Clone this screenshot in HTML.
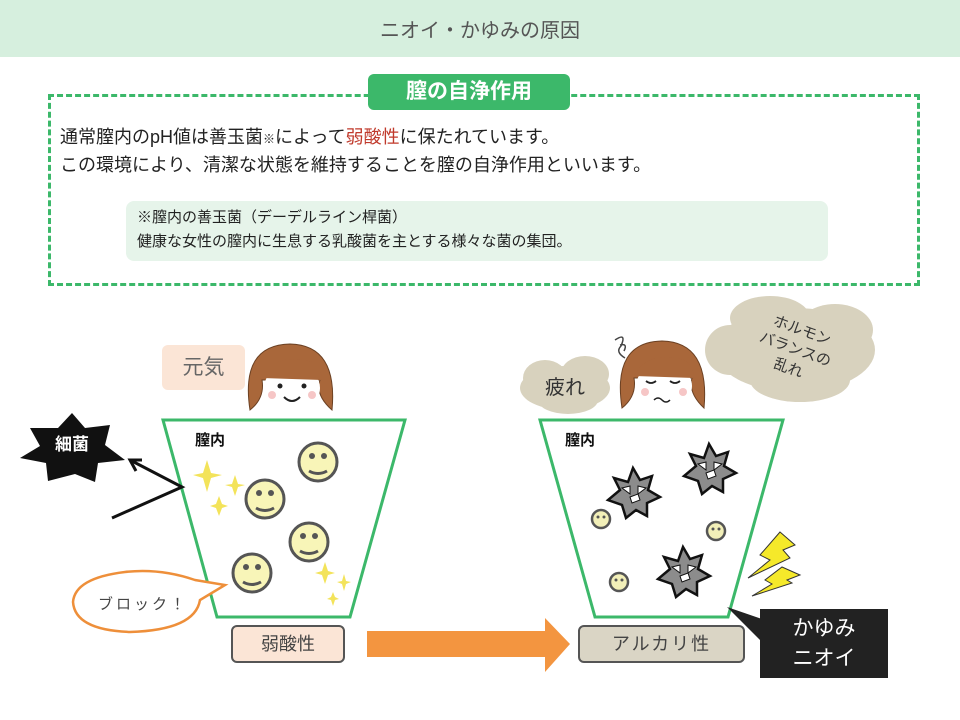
<!DOCTYPE html>
<html><head><meta charset="utf-8"><style>
body{margin:0;width:960px;height:720px;background:#fff;overflow:hidden;position:relative;font-family:"Liberation Sans","Noto Sans CJK JP",sans-serif;}
.a{position:absolute;}
</style></head><body>
<div class="a" style="left:0;top:0;width:960px;height:57px;background:#d6efde;"></div>
<div class="a" style="left:0;top:14px;width:960px;text-align:center;font-size:20px;color:#555;">ニオイ・かゆみの原因</div>
<div class="a" style="left:48px;top:94px;width:866px;height:186px;border:3px dashed #3cb86a;"></div>
<div class="a" style="left:368px;top:74px;width:202px;height:36px;background:#3cb86a;border-radius:6px;color:#fff;font-weight:bold;font-size:21px;text-align:center;line-height:36px;">膣の自浄作用</div>
<div class="a" style="left:60px;top:124px;font-size:18px;color:#222;line-height:26px;">通常膣内のpH値は善玉菌<span style="font-size:12px">※</span>によって<span style="color:#c0392b">弱酸性</span>に保たれています。<br>この環境により、清潔な状態を維持することを膣の自浄作用といいます。</div>
<div class="a" style="left:126px;top:201px;width:702px;height:60px;background:#e6f4ea;border-radius:8px;"></div>
<div class="a" style="left:137px;top:206px;font-size:15px;color:#222;line-height:24px;">※膣内の善玉菌（デーデルライン桿菌）<br>健康な女性の膣内に生息する乳酸菌を主とする様々な菌の集団。</div>

<svg class="a" style="left:0;top:0" width="960" height="720">
<polygon points="163,420 405,420 350,617 217,617" fill="#fff" stroke="#3cb86a" stroke-width="3"/>
<polygon points="540,420 783,420 728,617 595,617" fill="#fff" stroke="#3cb86a" stroke-width="3"/>
<!-- bacteria star (8 points) -->
<polygon points="72,413 85,428 110,425 105,445 125,460 98,463 95,482 75,474 48,481 46,463 20,458 40,446 30,428 58,428" fill="#111"/>
<text x="72" y="450" font-size="17" font-weight="bold" fill="#fff" text-anchor="middle" font-family="Liberation Sans,Noto Sans CJK JP,sans-serif">細菌</text>
<polyline points="112,518 182,487 130,460" fill="none" stroke="#111" stroke-width="3"/>
<polyline points="142,460 130,460 136,471" fill="none" stroke="#111" stroke-width="3"/>
<g stroke="#555" stroke-width="3" fill="#f8f5b8">
<circle cx="318" cy="462" r="19"/><circle cx="265" cy="499" r="19"/><circle cx="309" cy="542" r="19"/><circle cx="252" cy="573" r="19"/>
</g>
<g fill="#555">
<circle cx="312" cy="456" r="3"/><circle cx="324" cy="456" r="3"/><circle cx="259" cy="493" r="3"/><circle cx="271" cy="493" r="3"/>
<circle cx="303" cy="536" r="3"/><circle cx="315" cy="536" r="3"/><circle cx="246" cy="567" r="3"/><circle cx="258" cy="567" r="3"/>
</g>
<g fill="none" stroke="#555" stroke-width="3">
<path d="M309,471 Q318,476 327,471"/><path d="M256,508 Q265,513 274,508"/><path d="M300,551 Q309,556 318,551"/><path d="M243,582 Q252,587 261,582"/>
</g>
<g fill="#f3e35a">
<path d="M207,460 L211,473 L222,475 L211,478 L207,492 L203,478 L193,475 L203,473Z"/>
<path d="M235,475 L238,484 L245,485 L238,487 L235,496 L232,487 L225,485 L232,484Z"/>
<path d="M219,496 L222,504 L228,506 L222,508 L219,516 L216,508 L210,506 L216,504Z"/>
<path d="M325,562 L328,571 L335,573 L328,575 L325,584 L322,575 L315,573 L322,571Z"/>
<path d="M344,574 L346,581 L351,582 L346,584 L344,591 L342,584 L337,582 L342,581Z"/>
<path d="M333,592 L335,597 L339,599 L335,600 L333,606 L331,600 L327,599 L331,597Z"/>
</g>
<path d="M195,580 Q160,568 125,572 Q75,578 73,602 Q75,630 130,632 Q195,630 200,600 L225,585 Z" fill="#fff" stroke="#ee8f3a" stroke-width="2.5"/>
<text x="143" y="609" font-size="15" fill="#444" text-anchor="middle" letter-spacing="3" font-family="Liberation Sans,Noto Sans CJK JP,sans-serif">ブロック！</text>
<!-- left face -->
<path d="M250,410 Q240,345 290,344 Q338,345 332,410 Q315,395 320,380 L262,380 Q265,398 250,410Z" fill="#a9673a" stroke="#6b4022" stroke-width="1"/>
<ellipse cx="292" cy="388" rx="28" ry="24" fill="#fff"/>
<path d="M262,378 Q275,352 312,362 Q322,368 322,380" fill="#a9673a"/>
<circle cx="280" cy="386" r="2.5" fill="#222"/><circle cx="304" cy="386" r="2.5" fill="#222"/>
<circle cx="272" cy="395" r="4" fill="#f6c6c6"/><circle cx="312" cy="395" r="4" fill="#f6c6c6"/>
<path d="M284,397 Q292,405 300,397" fill="none" stroke="#222" stroke-width="2"/>
<polygon points="367,631 545,631 545,618 570,644 545,672 545,657 367,657" fill="#f39540"/>
<g fill="#d8d2be">
<ellipse cx="565" cy="388" rx="45" ry="22"/><ellipse cx="545" cy="378" rx="22" ry="18"/><ellipse cx="585" cy="374" rx="24" ry="18"/><ellipse cx="568" cy="400" rx="30" ry="14"/>
<ellipse cx="795" cy="350" rx="80" ry="42"/><ellipse cx="770" cy="318" rx="40" ry="22"/><ellipse cx="835" cy="330" rx="38" ry="26"/><ellipse cx="800" cy="380" rx="50" ry="22"/><ellipse cx="730" cy="350" rx="25" ry="25"/>
</g>
<text x="565" y="394" font-size="20" fill="#333" text-anchor="middle" font-family="Liberation Sans,Noto Sans CJK JP,sans-serif">疲れ</text>
<g font-size="15" fill="#333" font-family="Liberation Sans,Noto Sans CJK JP,sans-serif" transform="rotate(20 795 350)">
<text x="795" y="334" text-anchor="middle">ホルモン</text>
<text x="795" y="354" text-anchor="middle">バランスの</text>
<text x="795" y="374" text-anchor="middle">乱れ</text>
</g>
<!-- right face -->
<path d="M622,408 Q612,342 662,341 Q710,342 704,408 Q688,393 692,378 L634,378 Q637,396 622,408Z" fill="#a9673a" stroke="#6b4022" stroke-width="1"/>
<ellipse cx="664" cy="386" rx="28" ry="23" fill="#fff"/>
<path d="M634,376 Q647,350 684,360 Q694,366 694,378" fill="#a9673a"/>
<path d="M646,381 q5,4 10,0 M670,381 q5,4 10,0" fill="none" stroke="#222" stroke-width="1.8"/>
<circle cx="645" cy="392" r="4" fill="#f6c6c6"/><circle cx="683" cy="392" r="4" fill="#f6c6c6"/>
<path d="M654,400 q4,-4 8,0 q4,4 8,0" fill="none" stroke="#222" stroke-width="1.5"/>
<path d="M615,340 q12,-8 6,6 q-6,6 4,12 M620,345 q8,-2 4,6" fill="none" stroke="#444" stroke-width="1.5"/>
<g fill="#8c8c8c" stroke="#111" stroke-width="2.5">
<polygon points="633,468 640,480 652,476 648,490 660,497 647,503 647,516 636,510 626,518 622,505 608,500 620,490 614,478 628,482"/>
<polygon points="709,444 716,456 728,452 724,466 736,473 723,479 723,492 712,486 702,494 698,481 684,476 696,466 690,454 704,458"/>
<polygon points="683,547 690,559 702,555 698,569 710,576 697,582 697,595 686,589 676,597 672,584 658,579 670,569 664,557 678,561"/>
</g>
<g fill="#fff" stroke="#111" stroke-width="1">
<polygon points="622,488 630,486 630,494"/><polygon points="638,486 646,488 638,494"/><polygon points="630,497 638,494 640,500 632,503"/>
<polygon points="698,464 706,462 706,470"/><polygon points="714,462 722,464 714,470"/><polygon points="706,473 714,470 716,476 708,479"/>
<polygon points="672,567 680,565 680,573"/><polygon points="688,565 696,567 688,573"/><polygon points="680,576 688,573 690,579 682,582"/>
</g>
<g stroke="#555" stroke-width="2.5" fill="#f2efb8">
<circle cx="601" cy="519" r="9"/><circle cx="716" cy="531" r="9"/><circle cx="619" cy="582" r="9"/>
</g>
<g fill="#555"><circle cx="598" cy="517" r="1.5"/><circle cx="604" cy="517" r="1.5"/><circle cx="713" cy="529" r="1.5"/><circle cx="719" cy="529" r="1.5"/><circle cx="616" cy="580" r="1.5"/><circle cx="622" cy="580" r="1.5"/></g>
<g fill="#f5e92a" stroke="#333" stroke-width="1">
<polygon points="780,532 795,545 783,550 790,558 748,578 770,560 760,555"/>
<polygon points="782,567 800,575 787,580 792,583 752,596 772,584 765,580"/>
</g>
<polygon points="727,607 765,620 765,645" fill="#222"/>
</svg>
<div class="a" style="left:231px;top:625px;width:110px;height:34px;background:#fbe5d6;border:2.5px solid #555;border-radius:6px;text-align:center;line-height:34px;font-size:18px;color:#444;">弱酸性</div>
<div class="a" style="left:578px;top:625px;width:163px;height:34px;background:#dad5c5;border:2.5px solid #555;border-radius:6px;text-align:center;line-height:34px;font-size:18px;color:#444;letter-spacing:2px;">アルカリ性</div>
<div class="a" style="left:760px;top:609px;width:128px;height:69px;background:#222;color:#fff;font-size:21px;text-align:center;line-height:30px;padding-top:5px;box-sizing:border-box;">かゆみ<br>ニオイ</div>
<div class="a" style="left:162px;top:345px;width:83px;height:45px;background:#fbe5d6;border-radius:6px;text-align:center;line-height:45px;font-size:21px;color:#666;">元気</div>
<div class="a" style="left:195px;top:429px;font-size:15px;font-weight:bold;color:#111;">膣内</div>
<div class="a" style="left:565px;top:429px;font-size:15px;font-weight:bold;color:#111;">膣内</div>
</body></html>
